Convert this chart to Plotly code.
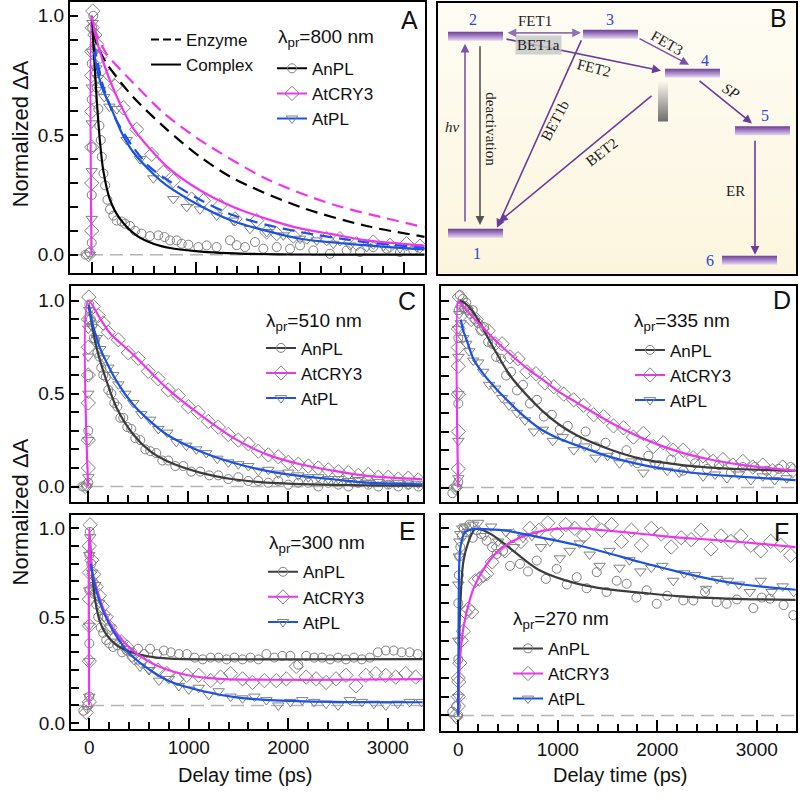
import plotly.graph_objects as go

# ---------------- data (t in ps, normalized dA) ----------------
# Panel A, probe 800 nm
A_T_ANPL = [-60, -20, 0, 0, 0, 0, 0, 5, 15, 32, 42, 48, 64, 74, 87, 97, 113, 129, 151, 176, 208, 240, 288, 320,
            368, 416, 480, 560, 640, 700, 753, 817, 865, 929, 1025, 1105, 1201, 1330, 1394, 1474, 1570, 1650,
            1779, 1907, 2003, 2131, 2291, 2452, 2580, 2708, 2836, 2964, 3092]
A_V_ANPL = [0.0, 0.01, 0.05, 0.25, 0.45, 0.65, 0.8, 0.95, 1.0, 0.86, 0.76, 0.70, 0.61, 0.54, 0.48, 0.41, 0.34,
            0.29, 0.23, 0.19, 0.164, 0.143, 0.139, 0.13, 0.12, 0.10, 0.088, 0.078, 0.081, 0.074, 0.06, 0.06,
            0.046, 0.042, 0.032, 0.039, 0.032, 0.06, 0.04, 0.032, 0.053, 0.025, 0.032, 0.025, 0.039, 0.018,
            0.004, 0.018, 0.011, 0.032, 0.025, 0.011, 0.018]
A_T_CRY = [-30, 0, 0, 0, 0, 0, 0, 5, 10, 30, 50, 80, 176, 224, 304, 432, 577, 689, 785, 962, 1074, 1234, 1378,
           1586, 1682, 1779, 1939, 2067, 2259, 2387, 2548, 2708, 2868, 3028, 3156]
A_V_CRY = [0.0, 0.1, 0.3, 0.45, 0.6, 0.75, 0.85, 0.95, 1.02, 0.92, 0.88, 0.83, 0.75, 0.705, 0.615, 0.525, 0.42,
           0.345, 0.31, 0.233, 0.226, 0.206, 0.15, 0.143, 0.095, 0.088, 0.078, 0.074, 0.067, 0.067, 0.046,
           0.053, 0.039, 0.046, 0.036]
A_T_PL = [-20, 0, 0, 0, 0, 0, 8, 45, 60, 80, 120, 170, 240, 336, 465, 593, 785, 913, 1041, 1202, 1362, 1522,
          1682, 1843, 2003, 2163, 2323, 2484, 2644, 2804, 2964, 3124]
A_V_PL = [0.0, 0.15, 0.35, 0.55, 0.7, 0.85, 0.97, 0.78, 0.74, 0.69, 0.66, 0.62, 0.61, 0.48, 0.40, 0.32, 0.233,
          0.2, 0.19, 0.164, 0.143, 0.108, 0.095, 0.081, 0.067, 0.06, 0.046, 0.039, 0.032, 0.036, 0.028, 0.032]

# fitted curves, complex (solid) and enzyme (dashed)
A_FT_ANPL = [0, 20, 48, 80, 112, 176, 272, 433, 600, 753, 1000, 1234, 1600, 2000, 2600, 3200]
A_FV_ANPL = [1.0, 0.85, 0.65, 0.47, 0.35, 0.23, 0.15, 0.08, 0.045, 0.028, 0.015, 0.008, 0.003, 0.001, 0.0, 0.0]
A_FT_CRY = [-2, 0, 30, 100, 242, 398, 721, 1041, 1362, 1682, 2003, 2323, 2644, 3000, 3200]
A_FV_CRY = [0.0, 1.0, 0.93, 0.82, 0.66, 0.53, 0.37, 0.27, 0.2, 0.15, 0.11, 0.085, 0.06, 0.045, 0.037]
A_FT_PL = [20, 50, 100, 200, 300, 398, 600, 721, 1041, 1362, 1682, 2003, 2644, 3200]
A_FV_PL = [0.85, 0.78, 0.7, 0.6, 0.5, 0.43, 0.335, 0.29, 0.205, 0.14, 0.1, 0.067, 0.039, 0.022]
A_ET_ANPL = [20, 50, 144, 398, 721, 1041, 1360, 2003, 2644, 3200]
A_EV_ANPL = [0.93, 0.88, 0.8, 0.66, 0.525, 0.41, 0.32, 0.2, 0.12, 0.075]
A_ET_CRY = [20, 50, 144, 398, 700, 1041, 1682, 2323, 3200]
A_EV_CRY = [0.95, 0.92, 0.84, 0.72, 0.59, 0.48, 0.317, 0.21, 0.115]
A_ET_PL = [20, 50, 100, 170, 240, 398, 550, 721, 1041, 1362, 1682, 2003, 2644, 3200]
A_EV_PL = [0.88, 0.82, 0.72, 0.63, 0.56, 0.45, 0.37, 0.315, 0.23, 0.165, 0.125, 0.095, 0.052, 0.03]

# Panel C, probe 510 nm
C_T_ANPL = [-60, -20, 0, 0, 0, 0, 10, 25, 40, 55, 70, 90, 110, 130, 150, 175, 200, 230, 260, 290, 320, 350,
            390, 430, 470, 520, 570, 620, 680, 740, 800, 870, 950, 1030, 1120, 1210, 1300, 1400, 1500, 1600,
            1700, 1800, 1900, 2000, 2100, 2200, 2300, 2400, 2500, 2600, 2700, 2800, 2900, 3000, 3100, 3200, 3300]
C_V_ANPL = [0.0, 0.0, 0.02, 0.3, 0.6, 0.9, 0.98, 0.9, 0.87, 0.8, 0.79, 0.72, 0.7, 0.64, 0.6, 0.59, 0.52, 0.5,
            0.45, 0.43, 0.37, 0.37, 0.32, 0.31, 0.26, 0.25, 0.2, 0.19, 0.18, 0.14, 0.14, 0.11, 0.11, 0.08, 0.08,
            0.06, 0.06, 0.04, 0.05, 0.03, 0.03, 0.02, 0.03, 0.01, 0.02, 0.02, 0.0, 0.02, 0.01, 0.0, 0.02, 0.01,
            0.0, 0.01, 0.0, 0.01, 0.0]
C_T_CRY = [-30, 0, 0, 0, 0, 0, 0, 5, 50, 100, 150, 200, 300, 400, 500, 600, 700, 800, 900, 1000, 1100, 1200,
           1300, 1400, 1500, 1600, 1700, 1800, 1900, 2000, 2100, 2200, 2300, 2400, 2500, 2600, 2700, 2800,
           2900, 3000, 3100, 3200, 3300]
C_V_CRY = [0.0, 0.1, 0.25, 0.45, 0.6, 0.75, 0.9, 1.02, 0.97, 0.92, 0.88, 0.83, 0.79, 0.72, 0.69, 0.62, 0.58,
           0.52, 0.49, 0.43, 0.40, 0.35, 0.32, 0.28, 0.25, 0.23, 0.19, 0.17, 0.16, 0.13, 0.12, 0.11, 0.10, 0.09,
           0.08, 0.075, 0.06, 0.065, 0.05, 0.05, 0.04, 0.045, 0.035]
C_T_PL = [-20, 0, 0, 0, 0, 0, 10, 40, 84, 120, 160, 200, 250, 300, 370, 450, 530, 620, 700, 790, 880, 980,
          1080, 1180, 1290, 1400, 1500, 1600, 1700, 1800, 1900, 2000, 2100, 2200, 2300, 2400, 2500, 2600,
          2700, 2800, 2900, 3000, 3100, 3200, 3300]
C_V_PL = [0.0, 0.05, 0.25, 0.5, 0.7, 0.85, 0.95, 0.86, 0.8, 0.74, 0.69, 0.64, 0.6, 0.55, 0.5, 0.45, 0.39, 0.36,
          0.31, 0.29, 0.24, 0.22, 0.2, 0.18, 0.15, 0.13, 0.12, 0.11, 0.085, 0.09, 0.07, 0.075, 0.06, 0.05,
          0.05, 0.04, 0.04, 0.03, 0.035, 0.02, 0.025, 0.015, 0.02, 0.01, 0.015]
C_FT_ANPL = [5, 40, 84, 184, 284, 450, 617, 784, 1117, 1450, 1784, 2450, 3340]
C_FV_ANPL = [0.97, 0.86, 0.745, 0.566, 0.423, 0.28, 0.19, 0.137, 0.075, 0.039, 0.021, 0.009, 0.004]
C_FT_CRY = [-2, 0, 117, 217, 450, 784, 1117, 1450, 1784, 2117, 2450, 2784, 3340]
C_FV_CRY = [0.0, 1.0, 0.905, 0.825, 0.71, 0.53, 0.387, 0.262, 0.173, 0.12, 0.085, 0.057, 0.039]
C_FT_PL = [5, 40, 84, 117, 284, 450, 617, 784, 1117, 1450, 1784, 2117, 2450, 2784, 3340]
C_FV_PL = [0.98, 0.88, 0.8, 0.745, 0.566, 0.44, 0.352, 0.28, 0.19, 0.128, 0.084, 0.057, 0.039, 0.021, 0.012]

# Panel D, probe 335 nm
D_T_ANPL = [-60, -20, 0, 0, 0, 5, 15, 30, 45, 60, 80, 100, 120, 145, 170, 200, 230, 260, 300, 340, 380, 430,
            480, 530, 590, 650, 720, 790, 860, 940, 1020, 1100, 1190, 1280, 1380, 1480, 1580, 1690, 1800, 1910,
            2020, 2140, 2260, 2380, 2500, 2620, 2740, 2860, 2980, 3100, 3220, 3340]
D_V_ANPL = [-0.03, 0.0, 0.03, 0.45, 0.8, 0.95, 1.03, 0.98, 1.01, 0.96, 0.99, 0.95, 0.93, 0.95, 0.9, 0.88, 0.84,
            0.86, 0.78, 0.77, 0.7, 0.69, 0.6, 0.62, 0.52, 0.55, 0.45, 0.47, 0.38, 0.39, 0.31, 0.33, 0.25, 0.3,
            0.22, 0.24, 0.17, 0.2, 0.13, 0.17, 0.12, 0.15, 0.09, 0.13, 0.1, 0.12, 0.08, 0.11, 0.11, 0.09, 0.1,
            0.11]
D_T_CRY = [-30, 0, 0, 0, 0, 0, 0, 10, 40, 80, 130, 180, 240, 300, 370, 440, 520, 600, 690, 780, 870, 960,
           1060, 1160, 1260, 1360, 1460, 1560, 1660, 1760, 1860, 1960, 2060, 2160, 2260, 2360, 2460, 2560,
           2660, 2760, 2860, 2960, 3060, 3160, 3260, 3360]
D_V_CRY = [0.0, 0.1, 0.3, 0.5, 0.65, 0.75, 0.85, 1.02, 0.97, 0.96, 0.9, 0.9, 0.85, 0.84, 0.77, 0.77, 0.7, 0.69,
           0.62, 0.61, 0.56, 0.54, 0.5, 0.47, 0.44, 0.39, 0.38, 0.33, 0.32, 0.27, 0.29, 0.22, 0.24, 0.2, 0.2,
           0.16, 0.17, 0.14, 0.15, 0.12, 0.14, 0.11, 0.12, 0.09, 0.11, 0.09]
D_T_PL = [-20, 0, 0, 0, 0, 0, 8, 25, 50, 80, 110, 150, 200, 250, 310, 370, 440, 510, 590, 670, 760, 850, 950,
          1050, 1160, 1270, 1380, 1500, 1620, 1740, 1860, 1980, 2100, 2220, 2340, 2460, 2580, 2700, 2820,
          2940, 3060, 3180, 3300]
D_V_PL = [0.0, 0.05, 0.25, 0.5, 0.7, 0.85, 0.93, 0.88, 0.8, 0.77, 0.73, 0.68, 0.67, 0.62, 0.55, 0.53, 0.48,
          0.44, 0.4, 0.36, 0.3, 0.31, 0.25, 0.27, 0.2, 0.22, 0.16, 0.17, 0.13, 0.14, 0.08, 0.12, 0.09, 0.08,
          0.1, 0.06, 0.07, 0.05, 0.07, 0.04, 0.06, 0.04, 0.05]
D_FT_ANPL = [15, 60, 120, 185, 270, 352, 520, 687, 855, 1020, 1190, 1525, 1860, 2195, 2530, 2864, 3390]
D_FV_ANPL = [1.0, 0.99, 0.96, 0.91, 0.83, 0.75, 0.6, 0.495, 0.405, 0.335, 0.28, 0.204, 0.151, 0.124, 0.107,
             0.098, 0.089]
D_FT_CRY = [-2, 0, 17, 100, 185, 350, 520, 687, 855, 1020, 1190, 1525, 1860, 2195, 2530, 2864, 3390]
D_FV_CRY = [0.0, 1.0, 0.99, 0.94, 0.89, 0.8, 0.715, 0.64, 0.575, 0.51, 0.455, 0.35, 0.262, 0.195, 0.15,
            0.12, 0.089]
D_FT_PL = [25, 50, 84, 151, 250, 352, 486, 653, 821, 1000, 1190, 1525, 1860, 2195, 2530, 2864, 3390]
D_FV_PL = [0.9, 0.84, 0.79, 0.69, 0.61, 0.545, 0.47, 0.385, 0.315, 0.265, 0.226, 0.164, 0.12, 0.09, 0.07,
           0.057, 0.04]

# Panel E, probe 300 nm
E_T_ANPL = [-60, -20, 0, 0, 0, 0, 5, 20, 35, 50, 70, 90, 115, 140, 170, 200, 240, 280, 330, 380, 430, 490,
            550, 610, 680, 750, 820, 900, 980, 1060, 1140, 1220, 1300, 1380, 1460, 1540, 1620, 1700, 1780,
            1860, 1940, 2020, 2100, 2180, 2260, 2340, 2420, 2500, 2580, 2660, 2740, 2820, 2900, 2980, 3060,
            3140, 3220, 3300]
E_V_ANPL = [-0.03, 0.0, 0.05, 0.35, 0.65, 0.85, 0.98, 0.8, 0.7, 0.63, 0.57, 0.5, 0.44, 0.41, 0.37, 0.35, 0.33,
            0.34, 0.3, 0.31, 0.3, 0.32, 0.29, 0.32, 0.29, 0.31, 0.3, 0.29, 0.29, 0.27, 0.26, 0.27, 0.27, 0.26,
            0.27, 0.26, 0.27, 0.26, 0.29, 0.27, 0.28, 0.28, 0.23, 0.28, 0.27, 0.27, 0.26, 0.27, 0.26, 0.27,
            0.26, 0.27, 0.3, 0.31, 0.31, 0.3, 0.3, 0.29]
E_T_CRY = [-30, 0, 0, 0, 0, 0, 0, 8, 25, 45, 70, 100, 130, 170, 210, 260, 320, 380, 450, 520, 600, 690, 780,
           880, 980, 1100, 1220, 1320, 1420, 1540, 1640, 1760, 1880, 1980, 2080, 2180, 2280, 2380, 2480, 2580,
           2680, 2780, 2880, 2980, 3080, 3180, 3280]
E_V_CRY = [-0.04, 0.02, 0.25, 0.45, 0.6, 0.75, 0.9, 1.02, 0.82, 0.74, 0.67, 0.62, 0.56, 0.5, 0.44, 0.38, 0.36,
           0.33, 0.27, 0.25, 0.22, 0.2, 0.18, 0.15, 0.17, 0.17, 0.14, 0.16, 0.18, 0.15, 0.13, 0.14, 0.14, 0.15,
           0.22, 0.16, 0.15, 0.13, 0.15, 0.17, 0.11, 0.17, 0.18, 0.17, 0.16, 0.18, 0.16]
E_T_PL = [-20, 0, 0, 0, 0, 0, 10, 30, 60, 100, 150, 210, 280, 350, 430, 510, 600, 700, 800, 900, 1000, 1100,
          1200, 1300, 1420, 1540, 1660, 1780, 1900, 2020, 2140, 2260, 2380, 2500, 2620, 2740, 2860, 2980, 3100,
          3220, 3340]
E_V_PL = [-0.02, 0.05, 0.25, 0.45, 0.65, 0.85, 0.95, 0.75, 0.68, 0.58, 0.5, 0.44, 0.36, 0.32, 0.27, 0.22, 0.2,
          0.14, 0.15, 0.11, 0.09, 0.1, 0.06, 0.08, 0.05, 0.04, 0.05, 0.03, 0.0, 0.02, 0.03, 0.02, 0.01, 0.0,
          0.03, 0.02, 0.01, 0.0, 0.01, 0.02, 0.02]
E_FT_ANPL = [5, 20, 34, 57, 107, 175, 275, 409, 577, 811, 1200, 2000, 3350]
E_FV_ANPL = [0.95, 0.8, 0.715, 0.6, 0.472, 0.397, 0.341, 0.303, 0.278, 0.264, 0.26, 0.26, 0.262]
E_FT_CRY = [-2, 0, 24, 74, 141, 241, 376, 543, 744, 979, 1314, 1817, 2500, 3350]
E_FV_CRY = [0.0, 1.0, 0.77, 0.66, 0.547, 0.434, 0.341, 0.266, 0.21, 0.172, 0.15, 0.145, 0.145, 0.148]
E_FT_PL = [15, 40, 74, 141, 241, 409, 610, 811, 1146, 1481, 1817, 2454, 3350]
E_FV_PL = [0.8, 0.72, 0.64, 0.53, 0.42, 0.29, 0.2, 0.135, 0.08, 0.045, 0.03, 0.02, 0.018]

# Panel F, probe 270 nm
F_T_ANPL = [-60, -20, 0, 0, 0, 5, 10, 20, 35, 55, 80, 110, 145, 185, 230, 285, 340, 386, 450, 520, 620, 700,
            788, 880, 989, 1090, 1190, 1290, 1391, 1490, 1592, 1692, 1790, 1893, 1994, 2100, 2261, 2362, 2480,
            2597, 2697, 2800, 2965, 3050, 3133, 3269, 3367]
F_V_ANPL = [0.02, 0.05, 0.0, 0.3, 0.6, 0.75, 0.85, 0.9, 0.96, 1.0, 0.98, 1.02, 0.95, 0.99, 0.97, 0.934, 0.9,
            0.863, 0.88, 0.8, 0.81, 0.77, 0.828, 0.73, 0.784, 0.7, 0.739, 0.68, 0.766, 0.66, 0.72, 0.704, 0.63,
            0.669, 0.597, 0.64, 0.615, 0.615, 0.66, 0.606, 0.597, 0.62, 0.574, 0.63, 0.624, 0.59, 0.536]
F_T_CRY = [-30, 0, 0, 0, 5, 15, 30, 50, 75, 100, 134, 170, 210, 251, 285, 340, 400, 470, 550, 630, 720, 810,
           900, 990, 1080, 1170, 1260, 1350, 1440, 1540, 1640, 1740, 1840, 1940, 2040, 2140, 2240, 2340, 2440,
           2540, 2640, 2740, 2840, 2940, 3040, 3140, 3240, 3340]
F_V_CRY = [0.0, 0.05, 0.2, 0.1, 0.18, 0.28, 0.4, 0.45, 0.55, 0.57, 0.553, 0.72, 0.73, 0.748, 0.757, 0.82, 0.9,
           0.88, 0.96, 0.93, 1.0, 0.99, 1.03, 0.97, 1.02, 1.0, 0.96, 1.03, 0.99, 1.02, 0.93, 0.99, 0.91, 1.0,
           0.97, 0.9, 0.95, 0.94, 0.99, 0.89, 0.96, 0.93, 0.96, 0.91, 0.88, 0.93, 0.91, 0.856]
F_T_PL = [-20, 0, 0, 0, 5, 10, 20, 40, 70, 110, 150, 200, 260, 330, 400, 480, 560, 650, 740, 830, 920, 1020,
          1120, 1220, 1320, 1420, 1520, 1620, 1720, 1830, 1940, 2050, 2160, 2270, 2380, 2490, 2600, 2710,
          2820, 2930, 3040, 3150, 3260, 3370]
F_V_PL = [-0.02, 0.1, 0.4, 0.7, 0.85, 0.93, 0.97, 1.0, 1.01, 0.98, 1.02, 1.03, 0.96, 1.01, 0.93, 0.98, 0.9,
          0.95, 0.96, 0.9, 0.93, 0.84, 0.88, 0.92, 0.86, 0.8, 0.88, 0.79, 0.83, 0.77, 0.79, 0.8, 0.72, 0.76,
          0.75, 0.677, 0.73, 0.72, 0.7, 0.66, 0.72, 0.66, 0.69, 0.66]
F_FT_ANPL = [-2, 5, 17, 50, 101, 168, 251, 352, 486, 653, 821, 1156, 1491, 1859, 2200, 2529, 2864, 3390]
F_FV_ANPL = [0.0, 0.25, 0.553, 0.82, 0.926, 0.996, 0.99, 0.961, 0.908, 0.837, 0.775, 0.71, 0.675, 0.655,
             0.638, 0.628, 0.622, 0.618]
F_FT_CRY = [0, 5, 17, 50, 101, 151, 251, 386, 553, 754, 955, 1200, 1457, 1859, 2195, 2529, 2864, 3390]
F_FV_CRY = [0.0, 0.15, 0.3, 0.464, 0.589, 0.677, 0.78, 0.872, 0.934, 0.975, 0.996, 1.0, 0.99, 0.97, 0.952,
            0.94, 0.926, 0.9]
F_FT_PL = [-2, 3, 10, 24, 67, 151, 300, 486, 821, 1156, 1491, 1826, 2195, 2529, 2864, 3390]
F_FV_PL = [0.0, 0.5, 0.82, 0.908, 0.979, 0.996, 0.995, 0.988, 0.952, 0.915, 0.87, 0.82, 0.77, 0.73, 0.7,
           0.672]

PROBES = ["800", "510", "335", "300", "270"]
SAMPLES = ["AnPL", "AtCRY3", "AtPL"]

# ---------------- scheme (panel B), in picture pixels ----------------
LEVEL_NAMES = ["1", "2", "3", "4", "5", "6"]
LEVEL_X = [448, 448, 583, 665, 735, 722]
LEVEL_Y = [235, 37, 35, 74, 132, 262]
LEVEL_LABEL_XY = [(477, 255), (473, 20), (610, 20), (705, 61), (765, 116), (710, 262)]
LEVEL_W = 55
# (tail x, tail y, head x, head y, colour, both ends)
ARROWS = [
    (465, 224, 465, 44, "#7d55a8", False),
    (480, 45, 480, 226, "#555555", False),
    (506, 33, 581, 33, "#8e72b4", True),
    (505, 39, 661, 71, "#6a3d9a", False),
    (638, 38, 689, 65, "#7a52a6", False),
    (698, 80, 752, 124, "#6a3d9a", False),
    (755, 140, 755, 256, "#6a3d9a", False),
    (582, 39, 497, 229, "#6a3d9a", False),
    (653, 95, 499, 223, "#6a3d9a", False),
]
# (text, x, y, angle, italic)
SCHEME_LABELS = [
    ("FET1", 535, 21, 0, False),
    ("FET2", 594, 68, 14, False),
    ("FET3", 667, 43, 30, False),
    ("SP", 731, 91, 32, True),
    ("ER", 735, 192, 0, False),
    ("BET1b", 555, 122, -62, False),
    ("BET2", 602, 153, -38, False),
    ("hν", 452, 128, 0, True),
    ("deactivation", 491, 130, 90, False),
]

# ---------------- styling ----------------
SANS = "Liberation Sans, Arial, sans-serif"
SERIF = "Liberation Serif, Times New Roman, serif"
GREY = "#808080"
PINK = "#ee36ee"
BLUE = "#1b52e6"
DARK = "#3c3c3c"
SYMBOLS = {"AnPL": ("circle-open", 9), "AtCRY3": ("diamond-open", 11), "AtPL": ("triangle-down-open", 10)}

W = 800.0


def dom_x(a, b):
    return [a / W, b / W]


def dom_y(top, bottom):
    return [1 - bottom / W, 1 - top / W]


fig = go.Figure()


def add_markers(t, v, name, ax):
    sym, size = SYMBOLS[name]
    fig.add_trace(go.Scatter(x=t, y=v, mode="markers", showlegend=False, hoverinfo="skip",
                             marker=dict(symbol=sym, size=size, color=GREY, line=dict(width=1, color=GREY)),
                             xaxis="x" + ax, yaxis="y" + ax))


def add_fit(t, v, color, ax, dash="solid"):
    fig.add_trace(go.Scatter(x=t, y=v, mode="lines", showlegend=False, hoverinfo="skip",
                             line=dict(color=color, width=2.2, dash=dash, shape="spline", smoothing=0.8),
                             xaxis="x" + ax, yaxis="y" + ax))


def add_legend_entry(name, color, legend, with_marker=True, dash="solid"):
    if with_marker:
        sym, size = SYMBOLS[name]
        mode = "lines+markers"
    else:
        sym, size, mode = "circle", 1, "lines"
    fig.add_trace(go.Scatter(x=[None], y=[None], name=name, legend=legend, mode=mode,
                             line=dict(color=color, width=2, dash=dash),
                             marker=dict(symbol=sym, size=size, color=GREY, line=dict(width=1, color=GREY))))


panels = [
    # axis suffix, markers, fits, fit colours
    ("", [(A_T_ANPL, A_V_ANPL), (A_T_CRY, A_V_CRY), (A_T_PL, A_V_PL)],
     [(A_FT_ANPL, A_FV_ANPL), (A_FT_CRY, A_FV_CRY), (A_FT_PL, A_FV_PL)], ["#000000", PINK, BLUE]),
    ("3", [(C_T_ANPL, C_V_ANPL), (C_T_CRY, C_V_CRY), (C_T_PL, C_V_PL)],
     [(C_FT_ANPL, C_FV_ANPL), (C_FT_CRY, C_FV_CRY), (C_FT_PL, C_FV_PL)], [DARK, PINK, BLUE]),
    ("4", [(D_T_ANPL, D_V_ANPL), (D_T_CRY, D_V_CRY), (D_T_PL, D_V_PL)],
     [(D_FT_ANPL, D_FV_ANPL), (D_FT_CRY, D_FV_CRY), (D_FT_PL, D_FV_PL)], [DARK, PINK, BLUE]),
    ("5", [(E_T_ANPL, E_V_ANPL), (E_T_CRY, E_V_CRY), (E_T_PL, E_V_PL)],
     [(E_FT_ANPL, E_FV_ANPL), (E_FT_CRY, E_FV_CRY), (E_FT_PL, E_FV_PL)], [DARK, PINK, BLUE]),
    ("6", [(F_T_ANPL, F_V_ANPL), (F_T_CRY, F_V_CRY), (F_T_PL, F_V_PL)],
     [(F_FT_ANPL, F_FV_ANPL), (F_FT_CRY, F_FV_CRY), (F_FT_PL, F_FV_PL)], [DARK, PINK, BLUE]),
]

# zero lines first so everything sits on top
for ax, _, _, _ in panels:
    fig.add_shape(type="line", xref=("x" + ax + " domain"), yref="y" + ax, x0=0, x1=1, y0=0, y1=0,
                  line=dict(color="#b4b4b4", width=1.5, dash="13px,7px"), layer="below")

for ax, marks, fits, colors in panels:
    for name, (t, v) in zip(SAMPLES, marks):
        add_markers(t, v, name, ax)
    if ax == "":
        # enzyme (dashed) fits only exist for 800 nm
        add_fit(A_ET_ANPL, A_EV_ANPL, "#000000", ax, dash="12px,7px")
        add_fit(A_ET_CRY, A_EV_CRY, PINK, ax, dash="12px,7px")
        add_fit(A_ET_PL, A_EV_PL, BLUE, ax, dash="12px,7px")
    for (t, v), c in zip(fits, colors):
        add_fit(t, v, c, ax)

# legends (titles are separate annotations so they can sit where the original has them)
add_legend_entry("Enzyme", "#000000", "legend", with_marker=False, dash="8px,4px")
add_legend_entry("Complex", "#000000", "legend", with_marker=False)
for lg in ["legend2", "legend3", "legend4", "legend5", "legend6"]:
    first = "#000000" if lg == "legend2" else DARK
    for name, c in zip(SAMPLES, [first, PINK, BLUE]):
        add_legend_entry(name, c, lg)

# ---------------- scheme traces ----------------
BX0, BX1, BY0, BY1 = 438, 796, 3, 275
fig.add_trace(go.Scatter(x=[BX0, BX1, BX1, BX0, BX0], y=[BY0, BY0, BY1, BY1, BY0], mode="lines",
                         fill="toself", line=dict(width=0), hoverinfo="skip", showlegend=False,
                         fillgradient=dict(type="vertical",
                                           colorscale=[[0, "#fcf5de"], [1, "#fefcf4"]]),
                         xaxis="x2", yaxis="y2"))
for lx, ly in zip(LEVEL_X, LEVEL_Y):
    fig.add_trace(go.Scatter(x=[lx, lx + LEVEL_W, lx + LEVEL_W, lx, lx], y=[ly - 5, ly - 5, ly + 4, ly + 4, ly - 5],
                             mode="lines", fill="toself", line=dict(width=0), hoverinfo="skip",
                             showlegend=False,
                             fillgradient=dict(type="vertical",
                                               colorscale=[[0, "#e4d8ef"], [0.5, "#a887c8"], [1, "#6b3f94"]]),
                             xaxis="x2", yaxis="y2"))
# grey bar under level 4
fig.add_trace(go.Scatter(x=[658, 668, 668, 658, 658], y=[82, 82, 122, 122, 82], mode="lines", fill="toself",
                         line=dict(width=0), hoverinfo="skip", showlegend=False,
                         fillgradient=dict(type="vertical", colorscale=[[0, "#6e6e6e"], [1, "#fbf8ee"]]),
                         xaxis="x2", yaxis="y2"))

annotations = []
for x0, y0, x1, y1, col, both in ARROWS:
    annotations.append(dict(x=x1, y=y1, ax=x0, ay=y0, xref="x2", yref="y2", axref="x2", ayref="y2", text="",
                            showarrow=True, arrowhead=2, arrowsize=1.1, arrowwidth=1.6, arrowcolor=col,
                            arrowside="end+start" if both else "end", startarrowhead=2, startarrowsize=1.1))
for text, x, y, ang, it in SCHEME_LABELS:
    annotations.append(dict(x=x, y=y, xref="x2", yref="y2", text=("<i>%s</i>" % text) if it else text,
                            showarrow=False, textangle=ang, font=dict(family=SERIF, size=15, color="#1e1e1e")))
annotations.append(dict(x=538, y=45, xref="x2", yref="y2", text="BET1a", showarrow=False,
                        bgcolor="rgba(200,200,200,0.85)", borderpad=1,
                        font=dict(family=SERIF, size=15, color="#1e1e1e")))
for name, (x, y) in zip(LEVEL_NAMES, LEVEL_LABEL_XY):
    annotations.append(dict(x=x, y=y, xref="x2", yref="y2", text=name, showarrow=False,
                            font=dict(family=SERIF, size=16, color="#2a45e0")))


def paper_text(text, x, y, size, angle=0, anchor="center"):
    return dict(x=x / W, y=1 - y / W, xref="paper", yref="paper", text=text, showarrow=False,
                xanchor=anchor, yanchor="middle", textangle=angle,
                font=dict(family=SANS, size=size, color="#111"))


# panel letters and axis titles
for letter, x, y in [("A", 409, 20), ("B", 778, 18), ("C", 407, 303), ("D", 782, 302), ("E", 407, 534),
                     ("F", 781, 535)]:
    annotations.append(paper_text(letter, x, y, 25))
for y in [135, 515]:
    annotations.append(paper_text("Normalized ΔA", 20, y, 22, angle=-90))
for x in [245, 620]:
    annotations.append(paper_text("Delay time (ps)", x, 779, 20))
# legend titles
for probe, (x, y) in zip(PROBES, [(276, 38), (264, 324), (632, 324), (267, 547), (511, 623)]):
    annotations.append(paper_text("λ<sub>pr</sub>=%s nm" % probe, x, y, 19, anchor="left"))

fig.update_layout(annotations=annotations)

# ---------------- axes ----------------
axis_common = dict(showline=True, linecolor="#000", linewidth=2, mirror=True, showgrid=False, zeroline=False,
                   ticks="inside", tickcolor="#000", tickwidth=1.5,
                   tickfont=dict(family=SANS, size=19, color="#111"))

x_specs = {
    "": (dom_x(70, 425), [-209, 3205], False),
    "3": (dom_x(70.5, 423), [-178, 3347], False),
    "4": (dom_x(441, 796), [-174, 3394], False),
    "5": (dom_x(71, 423), [-184, 3354], True),
    "6": (dom_x(441, 796), [-174, 3394], True),
}
y_specs = {
    "": (dom_y(2, 274), [-0.075, 1.058], True),
    "3": (dom_y(287, 505), [-0.086, 1.082], True),
    "4": (dom_y(287.7, 505), [-0.08, 1.078], False),
    "5": (dom_y(518, 733), [-0.135, 1.073], True),
    "6": (dom_y(517.7, 735), [-0.085, 1.071], False),
}
lay = {}
for ax in x_specs:
    xd, xr, xlab = x_specs[ax]
    yd, yr, ylab = y_specs[ax]
    lay["xaxis" + ax] = dict(axis_common, domain=xd, range=xr, anchor="y" + ax, tickmode="array",
                             tickvals=[0, 1000, 2000, 3000], ticklen=11, showticklabels=xlab,
                             minor=dict(ticks="inside", dtick=200, tick0=0, ticklen=7, tickcolor="#000",
                                        tickwidth=1.5))
    if ax == "5":
        # the 0.0 label sits one minor tick below the zero line in the original
        ytv = [-0.1, 0.5, 1.0]
    else:
        ytv = [0, 0.5, 1.0]
    lay["yaxis" + ax] = dict(axis_common, domain=yd, range=yr, anchor="x" + ax, tickmode="array", tickvals=ytv,
                             ticktext=["0.0", "0.5", "1.0"], ticklen=8, showticklabels=ylab,
                             minor=dict(ticks="inside", dtick=0.1, tick0=0, ticklen=8, tickcolor="#000",
                                        tickwidth=1.5))
lay["xaxis2"] = dict(domain=dom_x(438, 796), range=[BX0, BX1], anchor="y2", showgrid=False, zeroline=False,
                     showticklabels=False, showline=True, linecolor="#000", linewidth=1.5, mirror=True, ticks="")
lay["yaxis2"] = dict(domain=dom_y(3, 275), range=[BY1, BY0], anchor="x2", showgrid=False, zeroline=False,
                     showticklabels=False, showline=True, linecolor="#000", linewidth=1.5, mirror=True, ticks="")
fig.update_layout(**lay)

# ---------------- legends ----------------
leg_font = dict(family=SANS, size=17, color="#111")


def legend_box(x, y):
    return dict(x=x / W, y=1 - y / W, xanchor="left", yanchor="top", bgcolor="rgba(0,0,0,0)", font=leg_font,
                tracegroupgap=0, itemclick=False, itemdoubleclick=False)


fig.update_layout(
    legend=legend_box(146, 22),
    legend2=legend_box(272, 51),
    legend3=legend_box(261, 332),
    legend4=legend_box(630, 334),
    legend5=legend_box(263, 557),
    legend6=legend_box(508, 634),
    width=800, height=800, margin=dict(l=0, r=0, t=0, b=0),
    paper_bgcolor="white", plot_bgcolor="white",
    font=dict(family=SANS), hovermode=False,
)

# the page's default body margin would push the 800x800 figure 8px off the window
fig.write_html("out.html", config={"displayModeBar": False},
               post_script="document.body.style.margin='0px';")
